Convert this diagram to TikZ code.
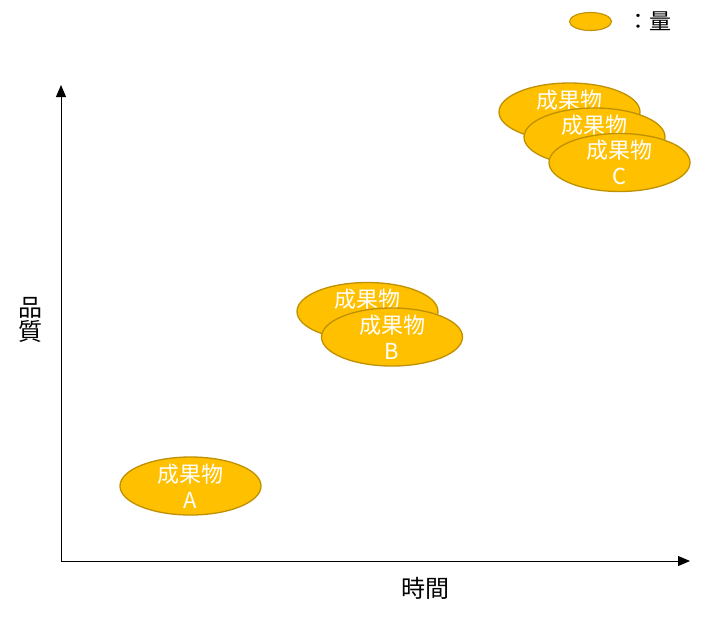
\documentclass[tikz,border=0pt]{standalone}
\usepackage{fontspec}
\setmainfont{Noto Sans CJK JP}
\usetikzlibrary{shapes.geometric,arrows.meta}

\begin{document}
\begin{tikzpicture}[x=1pt, y=-1pt,
  product/.style={ellipse, draw=gold!75!black, fill=gold, line width=1.3pt,
    minimum width=141pt, minimum height=58pt, inner sep=0pt},
  prodtext/.style={align=center, text=white, font=\fontsize{22}{26}\selectfont},
  axis/.style={line width=1pt, -{Triangle[length=12pt,width=10pt]}},
  axislabel/.style={font=\fontsize{24}{24}\selectfont, align=center}]
  \definecolor{gold}{HTML}{FFC000}
  \useasboundingbox (0,0) rectangle (703,619);
  % axes
  \coordinate (o) at (61,561);
  \coordinate (ytip) at (61,85);
  \coordinate (xtip) at (690,561);
  \draw[axis] (o) -- (ytip);
  \draw[axis] (o) -- (xtip);
  \node[axislabel] (quality) at (30,320) {品\\質};
  \node[axislabel] (time) at (425,588) {時間};
  % legend
  \node[product, minimum width=42pt, minimum height=18pt, line width=1.1pt] (key) at (590.5,21.5) {};
  \node[axislabel, font=\fontsize{22}{22}\selectfont, anchor=west] (keytext) at (624,21.5) {：量};
  % product A
  \node[product, label={[prodtext]center:{成果物\\A}}] (a) at (190.5,486) {};
  % products B
  \node[product, label={[prodtext]center:{成果物\\\phantom{B}}}] (b1) at (367.5,311.5) {};
  \node[product, label={[prodtext]center:{成果物\\B}}] (b2) at (392,337) {};
  % products C
  \node[product, label={[prodtext]center:{成果物\\\phantom{C}}}] (c1) at (569.5,112) {};
  \node[product, label={[prodtext]center:{成果物\\\phantom{C}}}] (c2) at (594.5,137) {};
  \node[product, label={[prodtext]center:{成果物\\C}}] (c3) at (619.5,162.5) {};
\end{tikzpicture}
\end{document}
